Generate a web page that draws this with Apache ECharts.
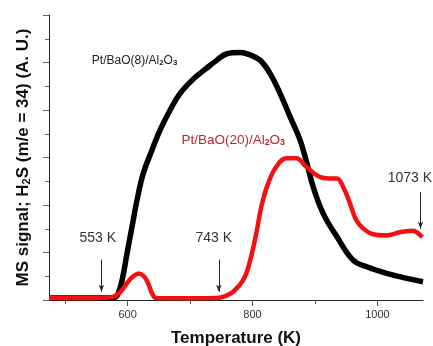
<!DOCTYPE html>
<html>
<head>
<meta charset="utf-8">
<script src="https://cdn.jsdelivr.net/npm/echarts@6/dist/echarts.min.js"></script>
<style>
  html, body { margin: 0; padding: 0; background: #fff; }
  #chart { width: 433px; height: 346px; }
</style>
</head>
<body>
<div id="chart"></div>
<script>
// Pt/BaO(8)/Al2O3 trace
const blackTemp = [474, 520, 560, 578, 585, 592, 599, 607, 615, 625, 639, 652, 668, 684, 705, 726, 743, 759, 780, 796, 812, 828, 844, 860, 876, 887, 897, 913, 935, 961, 983, 1015, 1047, 1073];
const blackSignal = [0.08, 0.08, 0.08, 0.1, 0.28, 0.95, 1.97, 3.09, 4.21, 5.33, 6.32, 7.16, 8.0, 8.7, 9.3, 9.75, 10.1, 10.37, 10.42, 10.32, 10.1, 9.54, 8.7, 7.72, 6.74, 5.76, 4.77, 3.65, 2.67, 1.68, 1.4, 1.12, 0.91, 0.77];

// Pt/BaO(20)/Al2O3 trace
const redTemp = [474, 540, 570, 582, 591, 600, 610, 618, 626, 632, 639, 645, 660, 700, 743, 755, 769, 785, 795, 806, 814, 825, 838, 854, 870, 886, 907, 923, 935, 945, 956, 966, 977, 993, 1014, 1036, 1057, 1065, 1072];
const redSignal = [0.07, 0.07, 0.1, 0.2, 0.42, 0.75, 1.02, 1.12, 1.0, 0.75, 0.28, 0.08, 0.07, 0.07, 0.08, 0.15, 0.35, 0.84, 1.55, 2.81, 3.93, 4.91, 5.61, 5.97, 5.97, 5.61, 5.19, 5.12, 5.12, 4.77, 4.07, 3.37, 3.02, 2.77, 2.72, 2.85, 2.92, 2.81, 2.64];

// axis ticks
const majorTicks = [600, 800, 1000];
const minorTicks = [500, 700, 900];

// temperature notes with arrows
const noteText = ["553 K", "743 K", "1073 K"];
const noteTemp = [552, 738, 1052];
const noteSignal = [2.6, 2.6, 5.12];
const arrowTemp = [558, 746, 1069];
const arrowTop = [1.7, 1.7, 4.55];
const arrowTip = [0.35, 0.35, 3.0];

// sample labels
const sampleText = ["Pt/BaO(8)/Al{sub|2}O{sub|3}", "Pt/BaO(20)/Al{sub|2}O{sub|3}"];
const sampleTemp = [611, 769];
const sampleSignal = [10.08, 6.74];
const sampleColor = ["#222222", "#b8282e"];
const sampleSize = [12, 13.5];

const font = '"Liberation Sans", Arial, sans-serif';

const chart = echarts.init(document.getElementById("chart"), null, { renderer: "canvas" });

const pairs = (xs, ys) => xs.map((x, i) => [x, ys[i]]);

const subRich = (color, size) => ({
  sub: { fontSize: size, color: color, fontFamily: font, padding: [5, 0, 0, 0], fontWeight: "bold" },
});

chart.setOption({
  animation: false,
  backgroundColor: "#fff",
  textStyle: { fontFamily: font },
  grid: { left: 49, right: 10, top: 15, bottom: 46, containLabel: false, outerBoundsMode: "none" },
  xAxis: [
    {
      type: "value",
      min: 474,
      max: 1073,
      name: "Temperature (K)",
      nameLocation: "middle",
      nameGap: 30,
      nameTextStyle: { fontSize: 17, fontWeight: "bold", color: "#111", fontFamily: font },
      axisLine: { lineStyle: { color: "#222", width: 1 } },
      axisTick: { customValues: majorTicks, length: 6, lineStyle: { color: "#555" } },
      axisLabel: {
        customValues: majorTicks,
        formatter: (v) => String(v),
        fontSize: 11,
        color: "#333",
        margin: 9,
        fontFamily: font,
      },
      splitLine: { show: false },
    },
    {
      type: "value",
      min: 474,
      max: 1073,
      position: "bottom",
      axisLine: { show: false },
      axisTick: { customValues: minorTicks, length: 4, lineStyle: { color: "#555" } },
      axisLabel: { show: false },
      splitLine: { show: false },
    },
  ],
  yAxis: {
    type: "value",
    min: 0,
    max: 12,
    interval: 2,
    name: "MS signal; H{sub|2}S (m/e = 34) (A. U.)",
    nameLocation: "middle",
    nameGap: 17,
    nameTextStyle: {
      fontSize: 17,
      fontWeight: "bold",
      color: "#111",
      fontFamily: font,
      rich: { sub: { fontSize: 11, fontWeight: "bold", color: "#111", padding: [6, 0, 0, 0] } },
    },
    axisLine: { show: true, lineStyle: { color: "#222", width: 1 } },
    axisTick: { show: true, length: 6, lineStyle: { color: "#666" } },
    minorTick: { show: true, splitNumber: 2, length: 4, lineStyle: { color: "#666" } },
    axisLabel: { show: false },
    splitLine: { show: false },
  },
  series: [
    {
      name: "Pt/BaO(8)/Al2O3",
      type: "line",
      data: pairs(blackTemp, blackSignal),
      showSymbol: false,
      smooth: 0.4,
      lineStyle: { color: "#000", width: 5.5 },
      z: 2,
      markPoint: {
        silent: true,
        symbol: "circle",
        symbolSize: 1,
        itemStyle: { color: "transparent" },
        data: noteText
          .map((t, i) => ({
            coord: [noteTemp[i], noteSignal[i]],
            label: { show: true, position: "inside", formatter: t, fontSize: 14, color: "#333", fontFamily: font },
          }))
          .concat(
            sampleText.map((t, i) => ({
              coord: [sampleTemp[i], sampleSignal[i]],
              label: {
                show: true,
                position: "inside",
                formatter: t,
                fontSize: sampleSize[i],
                color: sampleColor[i],
                fontFamily: font,
                rich: subRich(sampleColor[i], sampleSize[i] * 0.65),
              },
            }))
          ),
      },
    },
    {
      name: "Pt/BaO(20)/Al2O3",
      type: "line",
      data: pairs(redTemp, redSignal),
      showSymbol: false,
      smooth: 0.4,
      lineStyle: { color: "#f21010", width: 4.5 },
      z: 3,
      markLine: {
        silent: true,
        symbol: ["none", "arrow"],
        symbolSize: [4, 7],
        label: { show: false },
        lineStyle: { color: "#222", width: 1, type: "solid" },
        data: arrowTemp.map((t, i) => [{ coord: [t, arrowTop[i]] }, { coord: [t, arrowTip[i]] }]),
      },
    },
  ],
});
</script>
</body>
</html>
